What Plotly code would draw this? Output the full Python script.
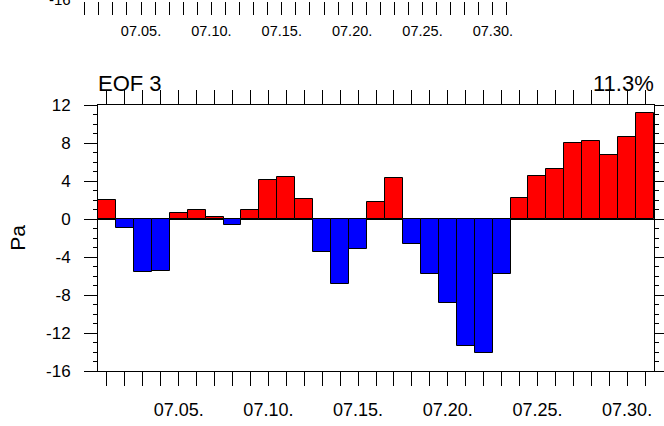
import plotly.graph_objects as go

days = list(range(1, 32))
values = [2.0, -0.9, -5.6, -5.5, 0.6, 0.95, 0.2, -0.65, 0.95, 4.1, 4.4, 2.15,
          -3.5, -6.8, -3.2, 1.8, 4.35, -2.65, -5.8, -8.8, -13.4, -14.1, -5.8,
          2.25, 4.5, 5.25, 7.95, 8.2, 6.75, 8.65, 11.15]
tick_labels = {5: "07.05.", 10: "07.10.", 15: "07.15.", 20: "07.20.", 25: "07.25.", 30: "07.30."}
panel_title = "EOF 3"
variance = "11.3%"
y_ticks = [-16, -12, -8, -4, 0, 4, 8, 12]
upper_bottom_label = "-16"

W, H = 664, 426
FONT = "Liberation Sans, Arial, Helvetica, sans-serif"
colors = ["#FF0000" if v >= 0 else "#0000FF" for v in values]
ticktext = [tick_labels.get(d, "") for d in days]

fig = go.Figure()
fig.add_trace(go.Bar(x=days, y=values, width=1.0, marker=dict(color=colors, line=dict(color="black", width=1)),
                     xaxis="x", yaxis="y", showlegend=False))
# remnant of the panel above (only its bottom axis is visible)
fig.add_trace(go.Scatter(x=[days[0]], y=[-20], mode="markers", marker=dict(opacity=0),
                         xaxis="x2", yaxis="y2", showlegend=False, hoverinfo="skip"))

px_x = lambda p: p / W
px_y = lambda p: (H - p) / H

fig.update_layout(
    width=W, height=H, margin=dict(l=0, r=0, t=0, b=0, autoexpand=False),
    paper_bgcolor="white", plot_bgcolor="white",
    font=dict(family=FONT, color="black"),
    bargap=0,
    xaxis=dict(domain=[px_x(98), px_x(654)], range=[0.5, 31.5], anchor="y", automargin=False,
               tickmode="array", tickvals=days, ticktext=ticktext,
               ticks="outside", ticklen=14, tickwidth=1, tickcolor="black",
               showline=True, linecolor="black", linewidth=1, mirror="ticks",
               showgrid=False, zeroline=False, tickangle=0,
               tickfont=dict(size=18, family=FONT), ticklabelstandoff=8),
    yaxis=dict(domain=[px_y(371), px_y(105)], range=[-16, 12], anchor="x", automargin=False,
               tickmode="array", tickvals=y_ticks, ticktext=[str(t) for t in y_ticks],
               ticks="outside", ticklen=13, tickwidth=1, tickcolor="black",
               minor=dict(dtick=1, ticks="outside", ticklen=4, tickwidth=1, tickcolor="black", showgrid=False),
               showline=True, linecolor="black", linewidth=1, mirror="ticks",
               showgrid=False, zeroline=True, zerolinecolor="black", zerolinewidth=1,
               tickfont=dict(size=17, family=FONT), ticklabelstandoff=10,
               title=dict(text="Pa", font=dict(size=21, family=FONT), standoff=14)),
    xaxis2=dict(domain=[px_x(77.7), px_x(514)], range=[0.5, 31.5], anchor="y2", automargin=False,
                tickmode="array", tickvals=days, ticktext=ticktext,
                ticks="outside", ticklen=13, tickwidth=1, tickcolor="black",
                showline=False, showgrid=False, zeroline=False, tickangle=0,
                tickfont=dict(size=14.5, family=FONT), ticklabelstandoff=4),
    yaxis2=dict(domain=[0.998, 1.0], range=[-16, -15], anchor="x2", automargin=False,
                showticklabels=False, ticks="", showline=False, showgrid=False, zeroline=False),
    annotations=[
        dict(text=panel_title, xref="paper", yref="paper", x=px_x(96), y=px_y(83),
             xanchor="left", yanchor="middle", showarrow=False, font=dict(size=22, family=FONT)),
        dict(text=variance, xref="paper", yref="paper", x=px_x(656), y=px_y(83),
             xanchor="right", yanchor="middle", showarrow=False, font=dict(size=22, family=FONT)),
        dict(text=upper_bottom_label, xref="paper", yref="paper", x=px_x(73), y=px_y(-1),
             xanchor="right", yanchor="middle", showarrow=False, font=dict(size=15, family=FONT)),
    ],
)

fig.write_html("out.html", config={"displayModeBar": False},
               post_script="document.body.style.margin='0';document.body.style.overflow='hidden';")
